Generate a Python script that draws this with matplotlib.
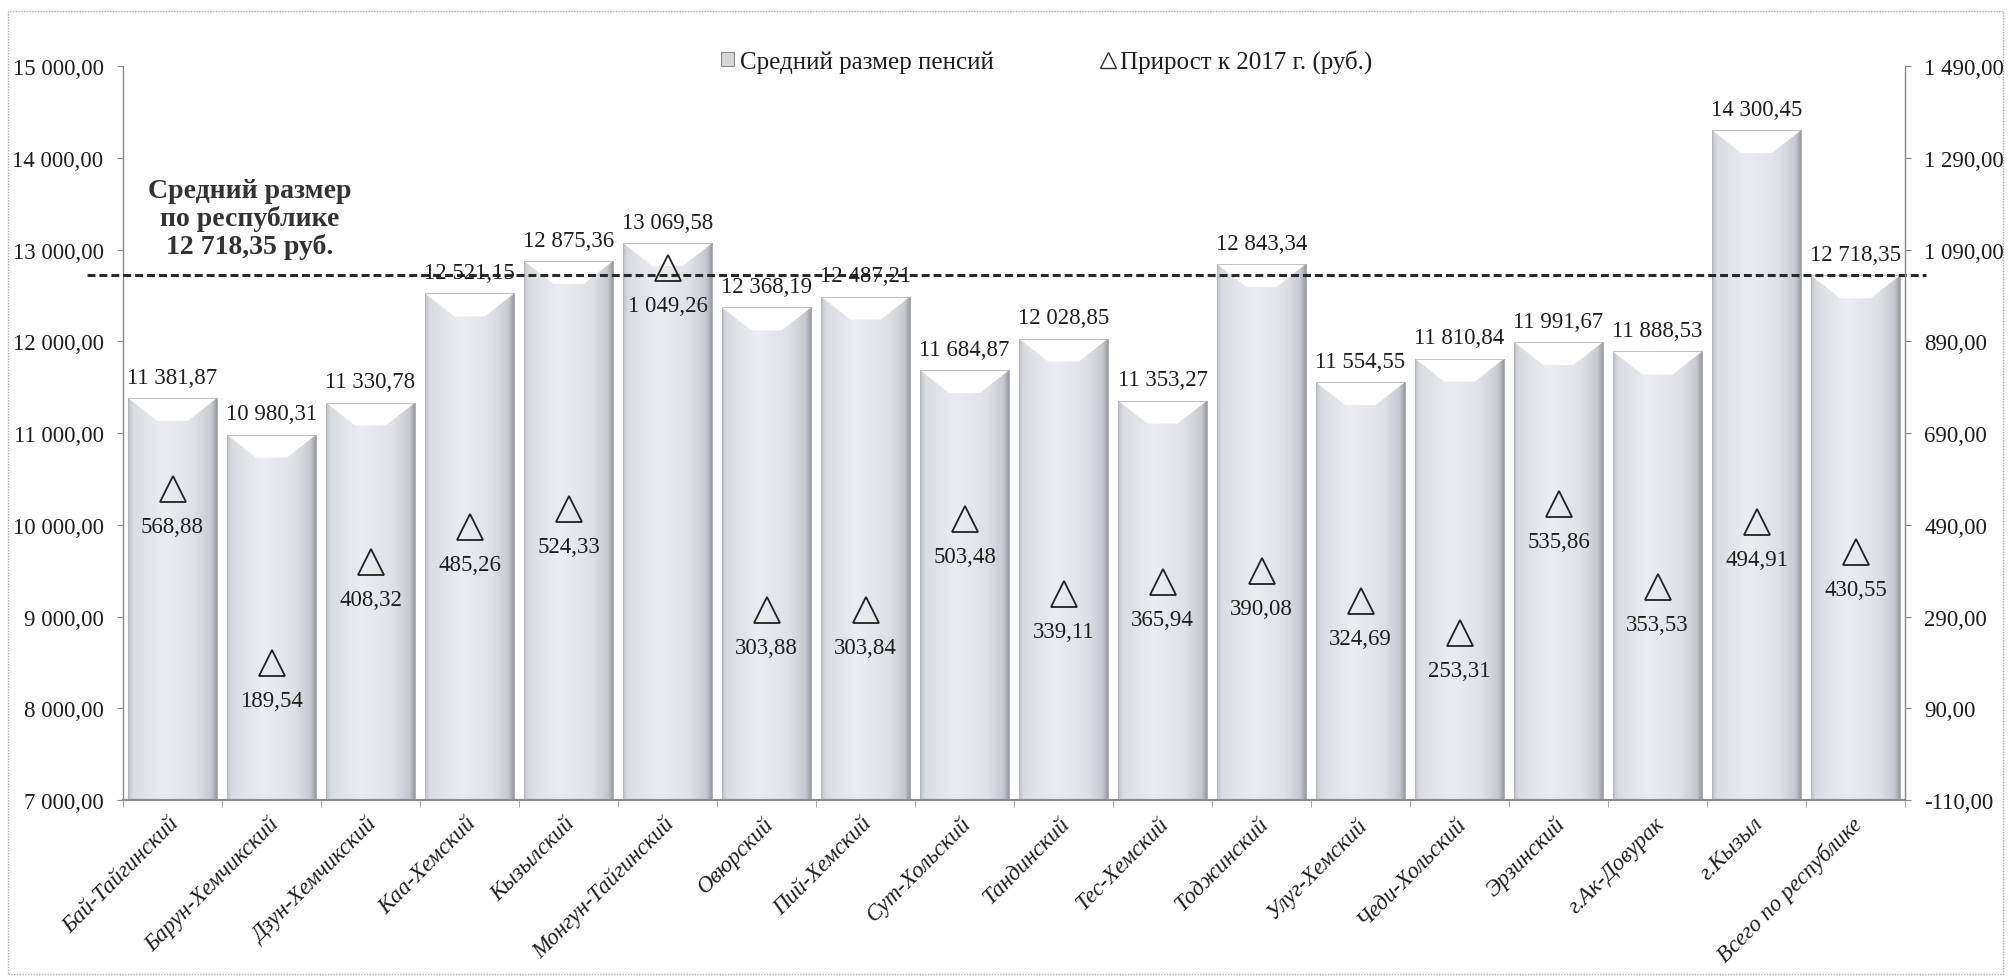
import matplotlib
matplotlib.use('Agg')
import matplotlib.pyplot as plt
import numpy as np
from matplotlib.patches import Polygon, Rectangle, Patch
from matplotlib.lines import Line2D
from matplotlib.ticker import FuncFormatter, FixedLocator
import matplotlib.transforms as mtransforms
from matplotlib.colors import LinearSegmentedColormap

categories = ["Бай-Тайгинский", "Барун-Хемчикский", "Дзун-Хемчикский", "Каа-Хемский",
              "Кызылский", "Монгун-Тайгинский", "Овюрский", "Пий-Хемский",
              "Сут-Хольский", "Тандинский", "Тес-Хемский", "Тоджинский",
              "Улуг-Хемский", "Чеди-Хольский", "Эрзинский", "г.Ак-Довурак",
              "г.Кызыл", "Всего по республике"]
avg_pension = [11381.87, 10980.31, 11330.78, 12521.15, 12875.36, 13069.58, 12368.19,
               12487.21, 11684.87, 12028.85, 11353.27, 12843.34, 11554.55, 11810.84,
               11991.67, 11888.53, 14300.45, 12718.35]
increase = [568.88, 189.54, 408.32, 485.26, 524.33, 1049.26, 303.88, 303.84, 503.48,
            339.11, 365.94, 390.08, 324.69, 253.31, 535.86, 353.53, 494.91, 430.55]
republic_avg = 12718.35
series_names = ["Средний размер пенсий", "Прирост к 2017 г. (руб.)"]
left_ticks = np.arange(7000, 15001, 1000)
right_ticks = np.arange(-110, 1491, 200)

plt.rcParams['font.family'] = ['Liberation Serif', 'DejaVu Serif']
TXT = '#1e1e1e'


def fmt(v, pos=None):
    return f"{v:,.2f}".replace(",", " ").replace(".", ",")


W, H = 2010, 979
fig = plt.figure(figsize=(W / 100, H / 100), dpi=100)
L, R, T, B = 123, 1905, 67, 801
ax = fig.add_axes([L / W, 1 - B / H, (R - L) / W, (B - T) / H])
ax2 = ax.twinx()

x = np.arange(len(categories))
width = 0.9
ax.set_xlim(-0.5, len(categories) - 0.5)
ax.set_ylim(left_ticks[0], left_ticks[-1])
ax2.set_ylim(right_ticks[0], right_ticks[-1])

# bars with gradient
bars = ax.bar(x, avg_pension, width, color='none', edgecolor='#b4b6ba', linewidth=0.6, zorder=2)
cmap = LinearSegmentedColormap.from_list('bar', [
    (0.0, (0.74, 0.75, 0.78)), (0.05, (0.85, 0.86, 0.88)), (0.4, (0.92, 0.93, 0.95)),
    (0.75, (0.87, 0.88, 0.90)), (0.93, (0.78, 0.79, 0.82)), (1.0, (0.56, 0.57, 0.60))])
grad = np.linspace(0, 1, 256).reshape(1, -1)
ppu = (B - T) / (left_ticks[-1] - left_ticks[0])  # px per unit
notch_depth = 23 / ppu
for xi, v, bar in zip(x, avg_pension, bars):
    im = ax.imshow(grad, cmap=cmap, aspect='auto', extent=(xi - width / 2, xi + width / 2, left_ticks[0], v),
                   zorder=1.5, interpolation='bicubic')
    im.set_clip_path(bar)
    poly = Polygon([(xi - width / 2, v), (xi + width / 2, v),
                    (xi + width * 0.17, v - notch_depth), (xi - width * 0.17, v - notch_depth)],
                   closed=True, facecolor='white', edgecolor='none', zorder=1.8)
    ax.add_patch(poly)
    ax.annotate(fmt(v), (xi, v), xytext=(0, 15), textcoords='offset points', ha='center', va='center',
                fontsize=16.5, color=TXT, zorder=5)

# republic average dashed line
trans = mtransforms.blended_transform_factory(ax.transAxes, ax.transData)
ln, = ax.plot([-0.02, 1.012], [republic_avg, republic_avg], transform=trans, color='#2a2a2a',
              lw=2.2, clip_on=False, zorder=4)
ln.set_dashes([2.6, 1.3])
ax.text(0.0713, (B - 219) / (B - T), "Средний размер\nпо республике\n" + fmt(republic_avg) + " руб.",
        transform=ax.transAxes, ha='center', va='center', fontsize=20, fontweight='bold',
        color='#333333', linespacing=1.1)

# increase markers
ax2.plot(x, increase, linestyle='none', marker='^', markersize=19, mfc='none', mec='#222222', mew=1.3, zorder=5)
for xi, v in zip(x, increase):
    ax2.annotate(fmt(v), (xi, v), xytext=(0, -27), textcoords='offset points', ha='center', va='center',
                 fontsize=16.5, color=TXT)

# axes styling
ax.set_yticks(left_ticks)
ax.yaxis.set_major_formatter(FuncFormatter(fmt))
ax2.set_yticks(right_ticks)
ax2.yaxis.set_major_formatter(FuncFormatter(fmt))
ax.tick_params(axis='y', direction='out', length=4, color='#888888', labelsize=16.5, labelcolor=TXT, pad=10)
ax2.tick_params(axis='y', direction='out', length=4, color='#888888', labelsize=16.5, labelcolor=TXT, pad=10)

ax.set_xticks(x)
ax.set_xticklabels(categories, rotation=45, ha='right', rotation_mode='anchor', fontsize=16.5,
                   fontstyle='italic', color=TXT)
ax.tick_params(axis='x', which='major', length=0, pad=9)
ax.xaxis.set_minor_locator(FixedLocator(np.arange(-0.5, len(categories), 1)))
ax.tick_params(axis='x', which='minor', length=5, color='#999999', direction='out')
offset = mtransforms.ScaledTranslation(-4 / 100, 0, fig.dpi_scale_trans)
for lab in ax.get_xticklabels():
    lab.set_transform(lab.get_transform() + offset)

for a in (ax, ax2):
    a.spines['top'].set_visible(False)
ax.spines['right'].set_visible(False)
ax2.spines['left'].set_visible(False)
ax2.spines['bottom'].set_visible(False)
for sp in (ax.spines['left'], ax2.spines['right']):
    sp.set_linestyle((0, (1, 1)))
    sp.set_color('#888888')
    sp.set_linewidth(1.0)
ax.spines['bottom'].set_color('#8a8a8a')
ax.spines['bottom'].set_linewidth(1.5)
ax.patch.set_visible(False)

# legend
handles = [Patch(facecolor='#d6d8dc', edgecolor='#8a8a8a', linewidth=0.8),
           Line2D([], [], linestyle='none', marker='^', markersize=11, mfc='none', mec='#333333', mew=1.0)]
ax2.legend(handles, series_names, loc='center', bbox_to_anchor=(1047 / W, 1 - 62 / H),
           bbox_transform=fig.transFigure, ncol=2, frameon=False, fontsize=18,
           handlelength=0.5, handleheight=0.5, handletextpad=0.25, columnspacing=4.3,
           labelcolor=TXT)

# outer border
fig.patches.append(Rectangle((8 / W, 4 / H), (2003 - 8) / W, (967 - 4) / H, transform=fig.transFigure,
                             fill=False, edgecolor='#aaaaaa', linestyle=(0, (1, 1)), linewidth=1.0))

fig.savefig('out.png', dpi=100)
